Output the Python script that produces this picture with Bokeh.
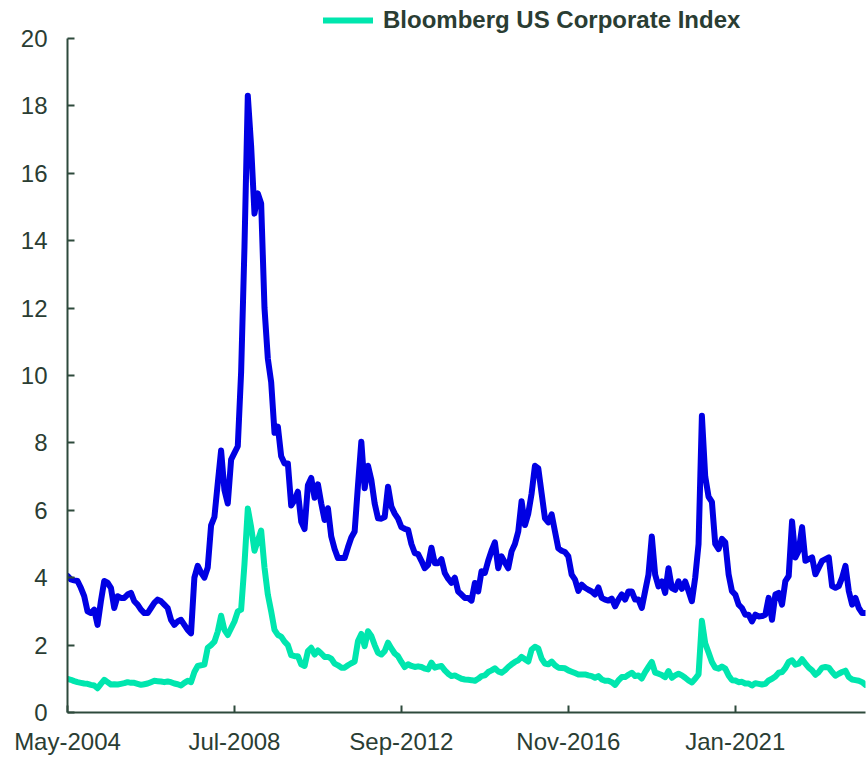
from bokeh.plotting import figure
from bokeh.models import FixedTicker, Legend, LegendItem, Range1d
from bokeh.embed import file_html
from bokeh.resources import INLINE

# Monthly spreads (%), May-2004 .. Apr-2024
hy_2004 = [4.05, 3.95, 3.92, 3.9, 3.7, 3.45, 3.0, 2.95]
hy_2005 = [3.05, 2.6, 3.3, 3.9, 3.85, 3.7, 3.1, 3.45, 3.4, 3.4, 3.5, 3.55]
hy_2006 = [3.3, 3.2, 3.05, 2.95, 2.95, 3.1, 3.25, 3.35, 3.3, 3.2, 3.1, 2.75]
hy_2007 = [2.6, 2.7, 2.75, 2.6, 2.45, 2.35, 4.0, 4.35, 4.15, 4.0, 4.3, 5.55]
hy_2008 = [5.8, 6.8, 7.77, 6.6, 6.2, 7.5, 7.7, 7.9, 10.1, 13.8, 18.3, 16.8]
hy_2009 = [14.8, 15.4, 15.1, 12.0, 10.5, 9.8, 8.3, 8.48, 7.6, 7.39, 7.39, 6.14]
hy_2010 = [6.3, 6.55, 5.66, 5.44, 6.74, 6.96, 6.37, 6.77, 6.2, 5.71, 6.06, 5.22]
hy_2011 = [4.85, 4.58, 4.58, 4.58, 4.9, 5.19, 5.37, 6.74, 8.03, 6.65, 7.32, 6.9]
hy_2012 = [6.2, 5.76, 5.75, 5.8, 6.7, 6.11, 5.9, 5.75, 5.5, 5.45, 5.42, 5.0]
hy_2013 = [4.73, 4.7, 4.5, 4.28, 4.38, 4.89, 4.43, 4.43, 4.55, 4.14, 3.97, 3.85]
hy_2014 = [4.0, 3.59, 3.5, 3.4, 3.4, 3.32, 3.84, 3.59, 4.19, 4.14, 4.5, 4.8]
hy_2015 = [5.05, 4.28, 4.63, 4.45, 4.28, 4.78, 5.0, 5.37, 6.27, 5.56, 5.9, 6.5]
hy_2016 = [7.32, 7.24, 6.5, 5.76, 5.64, 5.88, 5.37, 4.87, 4.8, 4.76, 4.63, 4.09]
hy_2017 = [3.94, 3.61, 3.79, 3.7, 3.64, 3.59, 3.5, 3.71, 3.4, 3.35, 3.32, 3.38]
hy_2018 = [3.15, 3.35, 3.5, 3.35, 3.59, 3.59, 3.35, 3.35, 3.1, 3.6, 4.09, 5.22]
hy_2019 = [4.09, 3.74, 3.89, 3.55, 4.28, 3.69, 3.64, 3.89, 3.67, 3.89, 3.6, 3.3]
hy_2020 = [4.0, 5.0, 8.8, 7.0, 6.4, 6.25, 5.0, 4.85, 5.15, 5.05, 4.1, 3.6]
hy_2021 = [3.5, 3.2, 3.1, 2.9, 2.9, 2.7, 2.9, 2.85, 2.86, 2.9, 3.4, 2.75]
hy_2022 = [3.5, 3.55, 3.2, 3.9, 4.05, 5.67, 4.6, 4.8, 5.5, 4.5, 4.55, 4.6]
hy_2023 = [4.1, 4.3, 4.5, 4.55, 4.6, 3.75, 3.7, 3.75, 4.0, 4.35, 3.6, 3.2]
hy_2024 = [3.4, 3.1, 2.95, 2.95]

ig_2004 = [1.0, 0.97, 0.93, 0.9, 0.88, 0.86, 0.85, 0.82]
ig_2005 = [0.8, 0.72, 0.85, 0.97, 0.9, 0.83, 0.84, 0.83, 0.85, 0.87, 0.9, 0.88]
ig_2006 = [0.88, 0.85, 0.82, 0.84, 0.86, 0.9, 0.94, 0.93, 0.92, 0.9, 0.92, 0.9]
ig_2007 = [0.86, 0.84, 0.8, 0.88, 0.94, 0.9, 1.2, 1.38, 1.4, 1.42, 1.92, 2.0]
ig_2008 = [2.1, 2.4, 2.87, 2.45, 2.3, 2.5, 2.7, 3.0, 3.05, 4.4, 6.05, 5.5]
ig_2009 = [4.8, 5.1, 5.4, 4.3, 3.5, 3.0, 2.45, 2.3, 2.25, 2.1, 2.0, 1.7]
ig_2010 = [1.67, 1.67, 1.43, 1.38, 1.82, 1.92, 1.72, 1.84, 1.75, 1.65, 1.65, 1.6]
ig_2011 = [1.45, 1.4, 1.33, 1.33, 1.4, 1.46, 1.51, 2.12, 2.33, 1.97, 2.41, 2.27]
ig_2012 = [2.0, 1.77, 1.72, 1.82, 2.07, 1.9, 1.75, 1.67, 1.5, 1.35, 1.43, 1.38]
ig_2013 = [1.35, 1.37, 1.35, 1.3, 1.28, 1.48, 1.33, 1.36, 1.38, 1.25, 1.15, 1.08]
ig_2014 = [1.1, 1.05, 1.0, 0.98, 0.97, 0.96, 0.94, 1.0, 1.08, 1.1, 1.2, 1.25]
ig_2015 = [1.31, 1.22, 1.18, 1.25, 1.35, 1.43, 1.5, 1.55, 1.65, 1.58, 1.51, 1.87]
ig_2016 = [1.95, 1.9, 1.6, 1.45, 1.43, 1.51, 1.4, 1.33, 1.32, 1.31, 1.25, 1.21]
ig_2017 = [1.17, 1.13, 1.13, 1.13, 1.1, 1.08, 1.03, 1.08, 0.98, 0.94, 0.94, 0.9]
ig_2018 = [0.82, 0.95, 1.05, 1.05, 1.12, 1.18, 1.08, 1.1, 1.01, 1.2, 1.35, 1.5]
ig_2019 = [1.18, 1.15, 1.11, 1.05, 1.23, 1.03, 1.1, 1.15, 1.1, 1.03, 0.95, 0.89]
ig_2020 = [1.0, 1.13, 2.72, 2.05, 1.78, 1.5, 1.33, 1.3, 1.36, 1.3, 1.1, 0.96]
ig_2021 = [0.95, 0.9, 0.91, 0.86, 0.86, 0.8, 0.87, 0.85, 0.83, 0.85, 0.95, 1.0]
ig_2022 = [1.07, 1.18, 1.2, 1.32, 1.5, 1.55, 1.42, 1.45, 1.58, 1.45, 1.33, 1.25]
ig_2023 = [1.12, 1.2, 1.33, 1.35, 1.33, 1.2, 1.09, 1.15, 1.2, 1.24, 1.05, 0.98]
ig_2024 = [0.96, 0.94, 0.9, 0.82]

tick_months = [0, 50, 100, 150, 200]
tick_labels = ["May-2004", "Jul-2008", "Sep-2012", "Nov-2016", "Jan-2021"]
y_ticks = [0, 2, 4, 6, 8, 10, 12, 14, 16, 18, 20]
ig_name = "Bloomberg US Corporate Index"

hy = (hy_2004 + hy_2005 + hy_2006 + hy_2007 + hy_2008 + hy_2009 + hy_2010 + hy_2011
      + hy_2012 + hy_2013 + hy_2014 + hy_2015 + hy_2016 + hy_2017 + hy_2018 + hy_2019
      + hy_2020 + hy_2021 + hy_2022 + hy_2023 + hy_2024)
ig = (ig_2004 + ig_2005 + ig_2006 + ig_2007 + ig_2008 + ig_2009 + ig_2010 + ig_2011
      + ig_2012 + ig_2013 + ig_2014 + ig_2015 + ig_2016 + ig_2017 + ig_2018 + ig_2019
      + ig_2020 + ig_2021 + ig_2022 + ig_2023 + ig_2024)
idx = list(range(len(hy)))

AX = "#2E4A3C"
TXT = "#2A3D33"
FONT = "Liberation Sans"

# Frame reaches the top of the canvas so the legend (above the 20 tick) is not clipped;
# the axis itself is bounded to 0..20.
H, BOTTOM = 757, 42
frame_h = H - BOTTOM
y_top = 20 * frame_h / 677.0

p = figure(width=868, height=H, output_backend="svg", toolbar_location=None,
           x_range=Range1d(0, len(hy) - 1), y_range=Range1d(0, y_top),
           min_border_left=67, min_border_right=3, min_border_top=0, min_border_bottom=BOTTOM)
p.outline_line_color = None
p.xgrid.visible = False
p.ygrid.visible = False
p.background_fill_color = "white"
p.border_fill_color = "white"

p.line(idx, hy, line_color="#0000E3", line_width=6, line_join="round", line_cap="round")
r_ig = p.line(idx, ig, line_color="#00E6AE", line_width=6, line_join="round", line_cap="round")

for ax in (p.xaxis[0], p.yaxis[0]):
    ax.axis_line_color = AX
    ax.axis_line_width = 2
    ax.major_tick_line_color = AX
    ax.major_tick_line_width = 2
    ax.major_tick_in = 7
    ax.major_tick_out = 0
    ax.minor_tick_in = 0
    ax.minor_tick_out = 0
    ax.minor_tick_line_color = None
    ax.major_label_text_font = FONT
    ax.major_label_text_font_size = "24px"
    ax.major_label_text_color = TXT

p.yaxis.ticker = FixedTicker(ticks=y_ticks)
p.yaxis.bounds = (0, 20)
p.yaxis.major_label_standoff = 20
p.xaxis.ticker = FixedTicker(ticks=tick_months)
p.xaxis.major_label_overrides = {t: l for t, l in zip(tick_months, tick_labels)}
p.xaxis.major_label_standoff = 15

legend = Legend(items=[LegendItem(label=ig_name, renderers=[r_ig])],
                location=(256, frame_h - 37), orientation="horizontal",
                padding=0, margin=0, spacing=0, border_line_color=None,
                background_fill_alpha=0, glyph_width=50, glyph_height=26,
                label_height=26, label_standoff=10,
                label_text_font=FONT, label_text_font_size="24px",
                label_text_font_style="bold", label_text_color=TXT)
p.add_layout(legend)

open("out.html", "w").write(file_html(p, INLINE))
